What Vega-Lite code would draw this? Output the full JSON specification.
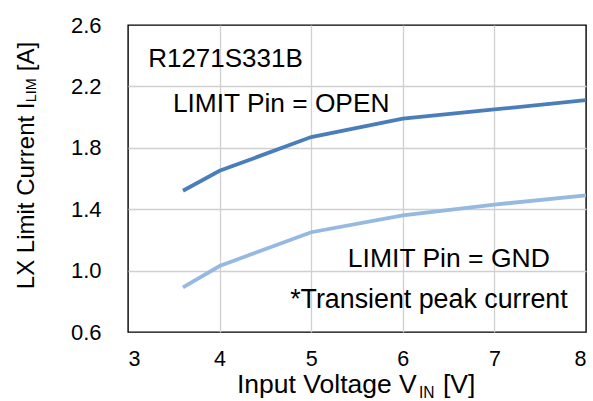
{
  "$schema": "https://vega.github.io/schema/vega-lite/v6.json",
  "autosize": "none",
  "width": 458,
  "height": 307,
  "padding": {"left": 128, "top": 25, "right": 7, "bottom": 69},
  "background": "white",
  "view": {"stroke": "#000000", "strokeWidth": 1.4},
  "config": {
    "font": "Liberation Sans",
    "axis": {"labelFont": "Liberation Sans", "labelColor": "#000000", "grid": true, "gridColor": "#d0d0d0", "gridWidth": 1.3, "ticks": false, "domain": false, "title": null}
  },
  "layer": [
    {
      "data": {"values": [
        {"vin": 3.6, "ilim": 1.52, "series": "OPEN"},
        {"vin": 4, "ilim": 1.65, "series": "OPEN"},
        {"vin": 5, "ilim": 1.87, "series": "OPEN"},
        {"vin": 6, "ilim": 1.99, "series": "OPEN"},
        {"vin": 7, "ilim": 2.05, "series": "OPEN"},
        {"vin": 8, "ilim": 2.11, "series": "OPEN"},
        {"vin": 3.6, "ilim": 0.89, "series": "GND"},
        {"vin": 4, "ilim": 1.03, "series": "GND"},
        {"vin": 5, "ilim": 1.25, "series": "GND"},
        {"vin": 6, "ilim": 1.36, "series": "GND"},
        {"vin": 7, "ilim": 1.43, "series": "GND"},
        {"vin": 8, "ilim": 1.49, "series": "GND"}
      ]},
      "mark": {"type": "line", "strokeWidth": 3.8, "clip": true},
      "encoding": {
        "x": {"field": "vin", "type": "quantitative", "scale": {"domain": [3, 8], "nice": false, "zero": false},
              "axis": {"values": [3, 4, 5, 6, 7, 8], "format": "d", "labelFontSize": 21.5, "labelPadding": 16, "labelBaseline": "top", "title": null,
                       "gridOpacity": {"condition": {"test": "datum.value == 3 || datum.value == 8", "value": 0}, "value": 1}}},
        "y": {"field": "ilim", "type": "quantitative", "scale": {"domain": [0.6, 2.6], "nice": false, "zero": false},
              "axis": {"values": [0.6, 1.0, 1.4, 1.8, 2.2, 2.6], "format": ".1f", "labelFontSize": 22, "labelPadding": 27, "title": null,
                       "gridOpacity": {"condition": {"test": "datum.value < 0.7 || datum.value > 2.5", "value": 0}, "value": 1}}},
        "color": {"field": "series", "type": "nominal", "scale": {"domain": ["OPEN", "GND"], "range": ["#4a7ebb", "#95b9e1"]}, "legend": null},
        "detail": {"field": "series"}
      }
    },
    {
      "data": {"values": [{}]},
      "mark": {"type": "text", "align": "left", "baseline": "alphabetic", "fontSize": 26, "color": "#000000"},
      "encoding": {"x": {"datum": 3.22}, "y": {"datum": 2.325}, "text": {"value": "R1271S331B"}}
    },
    {
      "data": {"values": [{}]},
      "mark": {"type": "text", "align": "left", "baseline": "alphabetic", "fontSize": 26.3, "color": "#000000"},
      "encoding": {"x": {"datum": 3.49}, "y": {"datum": 2.033}, "text": {"value": "LIMIT Pin = OPEN"}}
    },
    {
      "data": {"values": [{}]},
      "mark": {"type": "text", "align": "left", "baseline": "alphabetic", "fontSize": 26.5, "color": "#000000"},
      "encoding": {"x": {"datum": 5.4}, "y": {"datum": 1.023}, "text": {"value": "LIMIT Pin = GND"}}
    },
    {
      "data": {"values": [{}]},
      "mark": {"type": "text", "align": "left", "baseline": "alphabetic", "fontSize": 26.8, "color": "#000000"},
      "encoding": {"x": {"datum": 4.77}, "y": {"datum": 0.756}, "text": {"value": "*Transient peak current"}}
    },
    {
      "data": {"values": [{}]},
      "mark": {"type": "text", "align": "left", "baseline": "alphabetic", "fontSize": 26.5, "color": "#000000", "dx": -120},
      "encoding": {"x": {"datum": 5.5}, "y": {"datum": 0.2}, "text": {"value": "Input Voltage V"}}
    },
    {
      "data": {"values": [{}]},
      "mark": {"type": "text", "align": "left", "baseline": "alphabetic", "fontSize": 15.6, "color": "#000000", "dx": 62, "dy": 5},
      "encoding": {"x": {"datum": 5.5}, "y": {"datum": 0.2}, "text": {"value": "IN"}}
    },
    {
      "data": {"values": [{}]},
      "mark": {"type": "text", "align": "left", "baseline": "alphabetic", "fontSize": 26.5, "color": "#000000", "dx": 86},
      "encoding": {"x": {"datum": 5.5}, "y": {"datum": 0.2}, "text": {"value": "[V]"}}
    },
    {
      "data": {"values": [{}]},
      "mark": {"type": "text", "align": "left", "baseline": "middle", "angle": 270, "fontSize": 24, "color": "#000000", "dx": -123},
      "encoding": {"x": {"datum": 1.897}, "y": {"datum": 1.68}, "text": {"value": "LX Limit Current I"}}
    },
    {
      "data": {"values": [{}]},
      "mark": {"type": "text", "align": "left", "baseline": "middle", "angle": 270, "fontSize": 14.4, "color": "#000000", "dx": 64, "dy": 5},
      "encoding": {"x": {"datum": 1.897}, "y": {"datum": 1.68}, "text": {"value": "LIM"}}
    },
    {
      "data": {"values": [{}]},
      "mark": {"type": "text", "align": "left", "baseline": "middle", "angle": 270, "fontSize": 24, "color": "#000000", "dx": 95},
      "encoding": {"x": {"datum": 1.897}, "y": {"datum": 1.68}, "text": {"value": "[A]"}}
    }
  ]
}
